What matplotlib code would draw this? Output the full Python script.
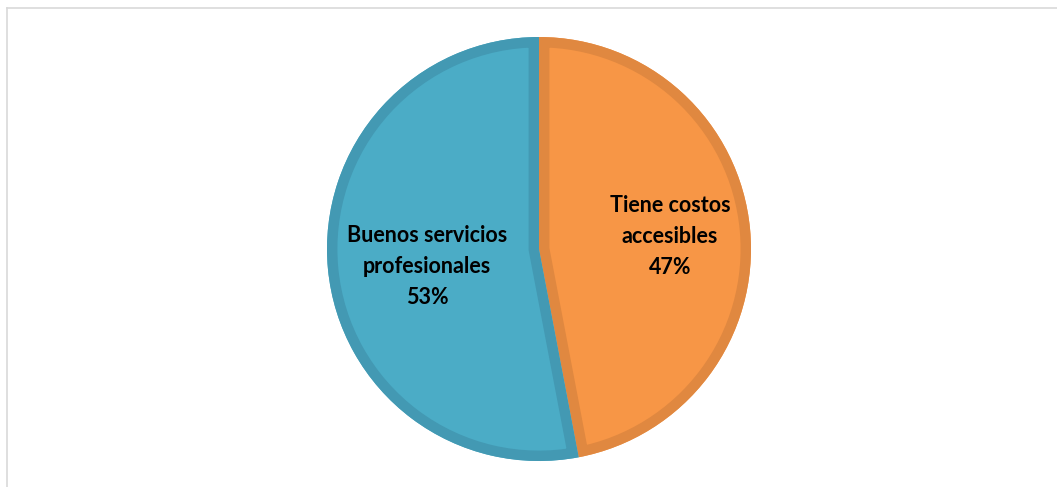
import numpy as np
import matplotlib
matplotlib.use("Agg")
import matplotlib.pyplot as plt
from matplotlib.lines import Line2D
from matplotlib.patches import Wedge

# slice data, clockwise from 12 o'clock
categories = ["Tiene costos\naccesibles", "Buenos servicios\nprofesionales"]
shares = [47, 53]
fill_colors = ["#F79646", "#4BACC6"]
edge_colors = ["#E08840", "#4399B3"]
label_dist = [0.62, 0.53]
label_shift = [0, -7]   # extra vertical nudge, px

W, H = 1057, 487
fig = plt.figure(figsize=(W / 100, H / 100), dpi=100)
ax = fig.add_axes([0, 0, 1, 1])

center = (539, H - 249)
radius = 212

wedges, _ = ax.pie(shares, colors=fill_colors, startangle=90, counterclock=False,
                   center=center, radius=radius, frame=True,
                   wedgeprops=dict(linewidth=0))
ax.set_xlim(0, W)
ax.set_ylim(0, H)
ax.set_aspect("equal")
ax.axis("off")

# thick border drawn only on the inside of each slice
for w, ec in zip(wedges, edge_colors):
    border = Wedge(w.center, w.r, w.theta1, w.theta2, facecolor="none",
                   edgecolor=ec, linewidth=15, joinstyle="miter")
    ax.add_patch(border)
    border.set_clip_path(w)

total = sum(shares)
for w, name, val, d, dy in zip(wedges, categories, shares, label_dist, label_shift):
    mid = np.deg2rad((w.theta1 + w.theta2) / 2)
    x = center[0] + d * radius * np.cos(mid)
    y = center[1] + d * radius * np.sin(mid) + dy
    ax.text(x, y, f"{name}\n{round(100 * val / total)}%", ha="center", va="center",
            fontsize=15.5, fontweight="bold", family="Lato", color="black",
            linespacing=1.6)

# partial chart frame
frame_col = "#D9D9D9"
fig.add_artist(Line2D([7 / W, 1.0], [1 - 8 / H, 1 - 8 / H], color=frame_col, lw=1.2,
                      transform=fig.transFigure))
fig.add_artist(Line2D([7 / W, 7 / W], [0, 1 - 8 / H], color=frame_col, lw=1.2,
                      transform=fig.transFigure))

fig.savefig("out.png", dpi=100)
